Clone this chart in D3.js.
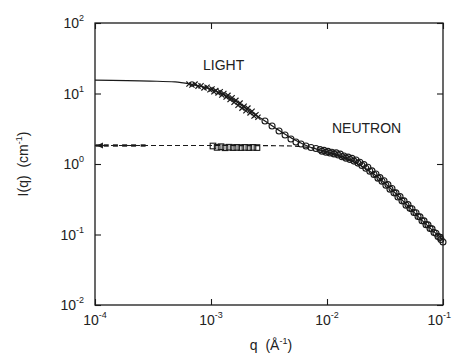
<!DOCTYPE html>
<html><head><meta charset="utf-8">
<script src="https://cdn.jsdelivr.net/npm/d3@7"></script>
<style>
body{margin:0;background:#fff;}
text{font-family:"Liberation Sans",Arial,sans-serif;fill:#222;white-space:pre;}
</style></head>
<body><svg id="c" width="452" height="355"></svg>
<script>
// ---- data ----
const xTicks = [1e-4, 1e-3, 1e-2, 1e-1];
const xTickExp = ["-4", "-3", "-2", "-1"];
const yTicks = [1e-2, 1e-1, 1, 10, 100];
const yTickExp = ["-2", "-1", "0", "1", "2"];

// solid fitted curve (light + neutron)
const fitQ = [1e-4, 2.98e-4, 4.9e-4, 6.6e-4, 8.9e-4, 1.2e-3, 1.61e-3, 2.17e-3, 2.92e-3, 3.94e-3, 5.3e-3, 7.1e-3, 1e-2, 1.43e-2, 1.92e-2, 2.6e-2, 3.5e-2, 4.7e-2, 6.3e-2, 0.1];
const fitI = [15.5, 15.0, 14.6, 13.6, 12.2, 10.2, 7.8, 5.6, 4.07, 2.94, 2.19, 1.74, 1.48, 1.22, 0.97, 0.70, 0.457, 0.28, 0.171, 0.0836];

// dashed fitted curve (low plateau)
const dashQ = [1e-4, 1e-3, 3e-3, 5e-3, 6.5e-3, 8e-3];
const dashI = [1.83, 1.83, 1.82, 1.80, 1.74, 1.66];

// light scattering, low-q points near plateau (left edge)
const lowQ = [1.06e-4, 1.25e-4, 1.5e-4, 1.8e-4, 2.15e-4, 2.6e-4];
const lowI = [1.83, 1.83, 1.83, 1.83, 1.83, 1.83];

// light scattering crosses
const crossQ = [6.46e-4, 6.85e-4, 7.28e-4, 7.73e-4, 8.2e-4, 8.7e-4, 9.25e-4, 9.8e-4, 1.02e-3, 1.06e-3, 1.10e-3, 1.15e-3, 1.20e-3, 1.24e-3, 1.29e-3, 1.35e-3, 1.40e-3, 1.46e-3, 1.52e-3, 1.58e-3, 1.64e-3, 1.71e-3, 1.78e-3, 1.85e-3, 1.93e-3, 2.00e-3, 2.08e-3, 2.17e-3, 2.26e-3, 2.35e-3, 2.44e-3, 2.54e-3];
const crossI = [13.6, 13.2, 13.6, 12.7, 12.9, 12.0, 12.3, 11.3, 11.6, 10.6, 11.0, 10.2, 10.6, 9.5, 10.0, 8.9, 9.4, 8.2, 8.7, 7.5, 8.0, 6.8, 7.3, 6.2, 6.6, 5.7, 6.2, 5.3, 5.6, 4.8, 5.0, 4.6];

// light scattering squares
const sqQ = [1.04e-3, 1.13e-3, 1.22e-3, 1.32e-3, 1.43e-3, 1.55e-3, 1.67e-3, 1.81e-3, 1.96e-3, 2.12e-3, 2.30e-3, 2.49e-3];
const sqI = [1.80, 1.72, 1.76, 1.70, 1.73, 1.71, 1.72, 1.71, 1.72, 1.71, 1.72, 1.71];

// circles (light high-q + neutron)
const circQ = [2.92e-3, 3.36e-3, 3.86e-3, 4.35e-3, 4.89e-3, 5.40e-3, 5.97e-3, 6.59e-3, 7.28e-3, 8.03e-3, 8.71e-3, 9.06e-3, 9.42e-3, 9.8e-3, 1.02e-2, 1.06e-2, 1.10e-2, 1.15e-2, 1.20e-2, 1.25e-2, 1.30e-2, 1.35e-2, 1.40e-2, 1.46e-2, 1.52e-2, 1.58e-2, 1.64e-2, 1.71e-2, 1.78e-2, 1.85e-2, 1.92e-2, 2.00e-2, 2.08e-2, 2.16e-2, 2.25e-2, 2.34e-2, 2.44e-2, 2.54e-2, 2.64e-2, 2.75e-2, 2.86e-2, 2.98e-2, 3.10e-2, 3.22e-2, 3.35e-2, 3.49e-2, 3.63e-2, 3.78e-2, 3.93e-2, 4.09e-2, 4.26e-2, 4.43e-2, 4.61e-2, 4.80e-2, 4.99e-2, 5.19e-2, 5.40e-2, 5.62e-2, 5.85e-2, 6.09e-2, 6.33e-2, 6.59e-2, 6.86e-2, 7.14e-2, 7.42e-2, 7.73e-2, 8.04e-2, 8.37e-2, 8.70e-2, 9.06e-2, 9.42e-2, 9.6e-2, 0.1];
const circI = [4.07, 3.46, 2.94, 2.58, 2.26, 2.05, 1.92, 1.80, 1.71, 1.66, 1.60, 1.52, 1.56, 1.47, 1.51, 1.43, 1.47, 1.39, 1.44, 1.34, 1.38, 1.27, 1.30, 1.21, 1.25, 1.16, 1.20, 1.10, 1.14, 1.03, 1.06, 0.95, 0.98, 0.87, 0.90, 0.79, 0.80, 0.71, 0.72, 0.63, 0.64, 0.57, 0.58, 0.50, 0.51, 0.44, 0.45, 0.39, 0.39, 0.34, 0.345, 0.30, 0.30, 0.26, 0.265, 0.235, 0.232, 0.205, 0.203, 0.180, 0.178, 0.157, 0.156, 0.138, 0.137, 0.122, 0.120, 0.107, 0.104, 0.094, 0.091, 0.085, 0.0783];

// ---- drawing ----
const svg = d3.select("#c");
const L = 95, T = 23, W = 348, H = 282;
const x = d3.scaleLog().domain([1e-4, 1e-1]).range([L, L + W]);
const y = d3.scaleLog().domain([1e-2, 1e2]).range([T + H, T]);
const ink = "#1a1a1a";

const g = svg.append("g");
// frame
g.append("rect").attr("x", L).attr("y", T).attr("width", W).attr("height", H)
  .attr("fill", "none").attr("stroke", ink).attr("stroke-width", 1.3);

// axes (inward ticks) using d3 axes
const tl = 6;
function styleAxis(sel){ sel.select(".domain").remove(); sel.selectAll("line").attr("stroke", ink).attr("stroke-width",1.1); sel.selectAll("text").remove(); }
g.append("g").attr("transform", `translate(0,${T+H})`).call(d3.axisBottom(x).tickValues(xTicks).tickSize(-tl)).call(styleAxis);
g.append("g").attr("transform", `translate(0,${T})`).call(d3.axisTop(x).tickValues(xTicks).tickSize(-tl)).call(styleAxis);
g.append("g").attr("transform", `translate(${L},0)`).call(d3.axisLeft(y).tickValues(yTicks).tickSize(-tl)).call(styleAxis);
g.append("g").attr("transform", `translate(${L+W},0)`).call(d3.axisRight(y).tickValues(yTicks).tickSize(-tl)).call(styleAxis);

// tick labels with superscripts
xTicks.forEach((v, i) => {
  const last = i === xTicks.length - 1;
  const t = svg.append("text").attr("x", last ? 451 : x(v)).attr("y", T + H + 20)
    .attr("text-anchor", last ? "end" : "middle").attr("font-size", 14);
  t.append("tspan").text("10");
  t.append("tspan").attr("font-size", 9).attr("dy", -7).text(xTickExp[i]);
});
yTicks.forEach((v, i) => {
  const t = svg.append("text").attr("x", L - 11).attr("y", y(v) + 5).attr("text-anchor", "end").attr("font-size", 14);
  t.append("tspan").text("10");
  t.append("tspan").attr("font-size", 9).attr("dy", -7).text(yTickExp[i]);
});

// axis titles
const xt = svg.append("text").attr("x", 271).attr("y", 350).attr("text-anchor", "middle").attr("font-size", 14);
xt.append("tspan").text("q  (Å");
xt.append("tspan").attr("font-size", 9).attr("dy", -6).text("-1");
xt.append("tspan").attr("dy", 6).text(")");
const yt = svg.append("text").attr("transform", "translate(28,164) rotate(-90)").attr("text-anchor", "middle").attr("font-size", 14);
yt.append("tspan").text("I(q)  (cm");
yt.append("tspan").attr("font-size", 9).attr("dy", -6).text("-1");
yt.append("tspan").attr("dy", 6).text(")");

// annotations
svg.append("text").attr("x", 203).attr("y", 70).attr("font-size", 14).text("LIGHT");
svg.append("text").attr("x", 332).attr("y", 133).attr("font-size", 14).text("NEUTRON");

// curves
const line = d3.line().x(d => x(d[0])).y(d => y(d[1])).curve(d3.curveMonotoneX);
g.append("path").attr("d", line(fitQ.map((q, i) => [q, fitI[i]])))
  .attr("fill", "none").attr("stroke", ink).attr("stroke-width", 1.2);
g.append("path").attr("d", line(dashQ.map((q, i) => [q, dashI[i]])))
  .attr("fill", "none").attr("stroke", ink).attr("stroke-width", 1.2).attr("stroke-dasharray", "5,3");

// low-q points (short thick dashes + arrow at edge)
g.selectAll(".low").data(lowQ.map((q, i) => [q, lowI[i]])).enter().append("rect")
  .attr("x", d => x(d[0]) - 2.5).attr("y", d => y(d[1]) - 1.2).attr("width", 5).attr("height", 2.4).attr("fill", ink);
g.append("path").attr("d", `M${x(lowQ[0]) - 1},${y(lowI[0])}l6,-3l0,6z`).attr("fill", ink);

// crosses
g.selectAll(".cr").data(crossQ.map((q, i) => [q, crossI[i]])).enter().append("path")
  .attr("transform", d => `translate(${x(d[0])},${y(d[1])})`)
  .attr("d", "M-2.6,-2.6L2.6,2.6M-2.6,2.6L2.6,-2.6")
  .attr("stroke", ink).attr("stroke-width", 1.2).attr("fill", "none");

// squares
g.selectAll(".sq").data(sqQ.map((q, i) => [q, sqI[i]])).enter().append("rect")
  .attr("x", d => x(d[0]) - 2.8).attr("y", d => y(d[1]) - 2.8).attr("width", 5.6).attr("height", 5.6)
  .attr("fill", "none").attr("stroke", ink).attr("stroke-width", 1.1);

// circles
g.selectAll(".ci").data(circQ.map((q, i) => [q, circI[i]])).enter().append("circle")
  .attr("cx", d => x(d[0])).attr("cy", d => y(d[1])).attr("r", 3)
  .attr("fill", "none").attr("stroke", ink).attr("stroke-width", 1.1);
</script></body></html>
